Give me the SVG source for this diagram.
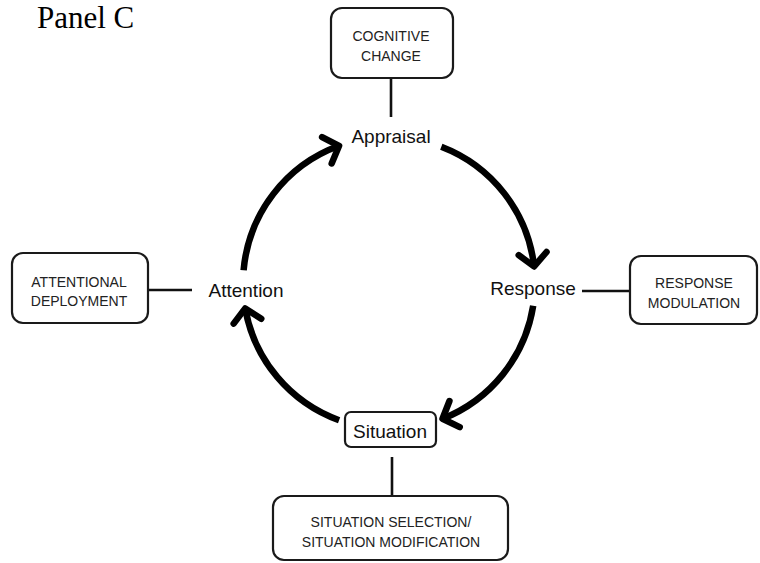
<svg xmlns="http://www.w3.org/2000/svg" width="760" height="563" viewBox="0 0 760 563">
<defs>
<style>
.box{fill:#fff;stroke:#1a1a1a;stroke-width:2.2}
.cap{font-family:"Liberation Sans",Arial,sans-serif;font-size:14px;fill:#222;text-anchor:middle}
.lbl{font-family:"Liberation Sans",Arial,sans-serif;font-size:19px;fill:#111;text-anchor:middle}
.link{stroke:#111;stroke-width:2.6;fill:none}
.arc{stroke:#000;stroke-width:6.5;fill:none;stroke-linecap:butt}
</style>
<marker id="chev" markerUnits="userSpaceOnUse" markerWidth="40" markerHeight="40" viewBox="-20 -20 40 40" refX="0" refY="0" orient="auto">
<path d="M -13 -14 L 0 0 L -13 14" fill="none" stroke="#000" stroke-width="6.5" stroke-linejoin="round" stroke-linecap="round"/>
</marker>
</defs>
<rect width="760" height="563" fill="#fff"/>
<g id="panel-label">
<text x="37" y="28" font-family="'Liberation Serif','Times New Roman',serif" font-size="31" fill="#000">Panel C</text>
</g>
<g id="connectors">
<path class="arc" d="M 441.3 146.7 A 146 146 0 0 1 534.1 266.5" marker-end="url(#chev)"/>
<path class="arc" d="M 533.2 305.8 A 146 146 0 0 1 442.5 418.8" marker-end="url(#chev)"/>
<path class="arc" d="M 339.1 420.2 A 146 146 0 0 1 245.2 308.4" marker-end="url(#chev)"/>
<path class="arc" d="M 243.6 270.3 A 146 146 0 0 1 339.1 145.8" marker-end="url(#chev)"/>
<line class="link" x1="391" y1="78" x2="391" y2="117"/>
<line class="link" x1="148" y1="290" x2="192" y2="290"/>
<line class="link" x1="582" y1="291" x2="630" y2="291"/>
<line class="link" x1="392" y1="457" x2="392" y2="496"/>
</g>
<g id="cognitive-change">
<rect class="box" x="331" y="8" width="122" height="70" rx="11"/>
<text class="cap" x="391" y="41">COGNITIVE</text>
<text class="cap" x="391" y="61">CHANGE</text>
</g>
<g id="appraisal">
<text class="lbl" x="391" y="143">Appraisal</text>
</g>
<g id="attentional-deployment">
<rect class="box" x="12" y="253" width="136" height="70" rx="11"/>
<text class="cap" x="79" y="287">ATTENTIONAL</text>
<text class="cap" x="79" y="306">DEPLOYMENT</text>
</g>
<g id="attention">
<text class="lbl" x="246" y="297">Attention</text>
</g>
<g id="response">
<text class="lbl" x="533" y="295">Response</text>
</g>
<g id="response-modulation">
<rect class="box" x="630" y="256" width="127" height="68" rx="11"/>
<text class="cap" x="694" y="288">RESPONSE</text>
<text class="cap" x="694" y="308">MODULATION</text>
</g>
<g id="situation">
<rect class="box" x="345" y="412" width="91" height="35" rx="6"/>
<text class="lbl" x="390" y="438">Situation</text>
</g>
<g id="situation-selection">
<rect class="box" x="273" y="496" width="235" height="64" rx="11"/>
<text class="cap" x="391" y="527">SITUATION SELECTION/</text>
<text class="cap" x="391" y="547">SITUATION MODIFICATION</text>
</g>
</svg>
